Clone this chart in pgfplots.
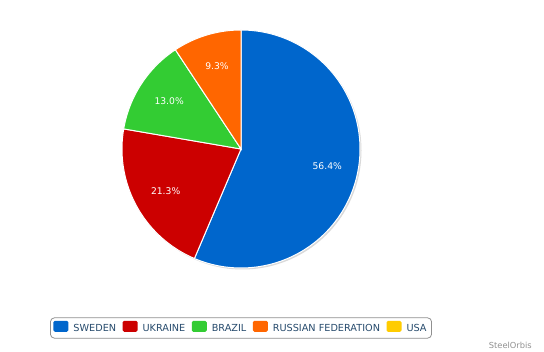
\documentclass[border=0pt]{standalone}
\usepackage{pgfplots}
\usepackage{pgfplotstable}
\pgfplotsset{compat=1.18}
\usepackage{fontspec}
\setmainfont{DejaVu Sans}
\definecolor{cSweden}{HTML}{0066CC}
\definecolor{cUkraine}{HTML}{CC0000}
\definecolor{cBrazil}{HTML}{33CC33}
\definecolor{cRussia}{HTML}{FF6600}
\definecolor{cUSA}{HTML}{FFCC00}
\definecolor{legendtext}{HTML}{274B6D}
\definecolor{legendgray}{HTML}{909090}
\definecolor{creditgray}{HTML}{909090}

\pgfplotstableread[col sep=comma]{
name,value
SWEDEN,56.4
UKRAINE,21.3
BRAZIL,13.0
RUSSIAN FEDERATION,9.3
USA,0.0
}\piedata
\pgfplotstablegetelem{0}{value}\of\piedata \let\vA\pgfplotsretval
\pgfplotstablegetelem{1}{value}\of\piedata \let\vB\pgfplotsretval
\pgfplotstablegetelem{2}{value}\of\piedata \let\vC\pgfplotsretval
\pgfplotstablegetelem{3}{value}\of\piedata \let\vD\pgfplotsretval
% cumulative angles (start at top, clockwise)
\pgfmathsetmacro{\aA}{90}
\pgfmathsetmacro{\aB}{90-3.6*\vA}
\pgfmathsetmacro{\aC}{\aB-3.6*\vB}
\pgfmathsetmacro{\aD}{\aC-3.6*\vC}
\pgfmathsetmacro{\aE}{\aD-3.6*\vD}
\pgfmathsetmacro{\mA}{(\aA+\aB)/2}
\pgfmathsetmacro{\mB}{(\aB+\aC)/2}
\pgfmathsetmacro{\mC}{(\aC+\aD)/2}
\pgfmathsetmacro{\mD}{(\aD+\aE)/2}
\def\cx{241}\def\cy{203}\def\R{119}\def\lr{87}

\begin{document}%
\begin{tikzpicture}
\begin{axis}[
  width=544bp,height=352bp,scale only axis,
  xmin=0,xmax=544,ymin=0,ymax=352,
  hide axis, clip=false,
  legend columns=5,
  legend style={at={(axis cs:241,24)},anchor=center,
    draw=legendgray, rounded corners=4bp, line width=0.8bp,
    font=\fontsize{9.7bp}{11bp}\selectfont, text=legendtext,
    inner xsep=3bp, inner ysep=3bp,
    /tikz/every odd column/.append style={column sep=3bp},
    /tikz/every even column/.append style={column sep=4.5bp}},
  legend image code/.code={\fill[#1,draw=none,rounded corners=1.5bp] (0bp,-3bp) rectangle (15bp,8bp);},
]
\path (axis cs:0,0) rectangle (axis cs:544,352);
% shadow
\addplot[fill=black!15, draw=none, domain=0:360, samples=160, forget plot]
  ({\cx+1.5+\R*cos(x)},{\cy-1.5+\R*sin(x)});
% slices
\addplot[fill=cSweden, draw=white, line width=1bp, domain=\aB:\aA, samples=140, forget plot]
  ({\cx+\R*cos(x)},{\cy+\R*sin(x)}) -- (axis cs:\cx,\cy) -- cycle;
\addplot[fill=cUkraine, draw=white, line width=1bp, domain=\aC:\aB, samples=70, forget plot]
  ({\cx+\R*cos(x)},{\cy+\R*sin(x)}) -- (axis cs:\cx,\cy) -- cycle;
\addplot[fill=cBrazil, draw=white, line width=1bp, domain=\aD:\aC, samples=50, forget plot]
  ({\cx+\R*cos(x)},{\cy+\R*sin(x)}) -- (axis cs:\cx,\cy) -- cycle;
\addplot[fill=cRussia, draw=white, line width=1bp, domain=\aE:\aD, samples=40, forget plot]
  ({\cx+\R*cos(x)},{\cy+\R*sin(x)}) -- (axis cs:\cx,\cy) -- cycle;
% labels
\begin{scope}[every node/.style={text=white, font=\fontsize{9.2bp}{10bp}\selectfont, inner sep=0pt}]
\node at (axis cs:{\cx+1+\lr*cos(\mA)},{\cy+\lr*sin(\mA)}) {56.4\%};
\node at (axis cs:{\cx+1+\lr*cos(\mB)},{\cy+\lr*sin(\mB)}) {21.3\%};
\node at (axis cs:{\cx+1+\lr*cos(\mC)},{\cy+\lr*sin(\mC)}) {13.0\%};
\node at (axis cs:{\cx+1+\lr*cos(\mD)},{\cy+\lr*sin(\mD)}) {9.3\%};
\end{scope}
\node[anchor=east, text=creditgray, font=\fontsize{8.3bp}{9bp}\selectfont, inner sep=0pt] at (axis cs:532,7) {SteelOrbis};
% legend
\addlegendimage{fill=cSweden}\addlegendentry{SWEDEN}
\addlegendimage{fill=cUkraine}\addlegendentry{UKRAINE}
\addlegendimage{fill=cBrazil}\addlegendentry{BRAZIL}
\addlegendimage{fill=cRussia}\addlegendentry{RUSSIAN FEDERATION}
\addlegendimage{fill=cUSA}\addlegendentry{USA}
\end{axis}
\end{tikzpicture}%
\end{document}
